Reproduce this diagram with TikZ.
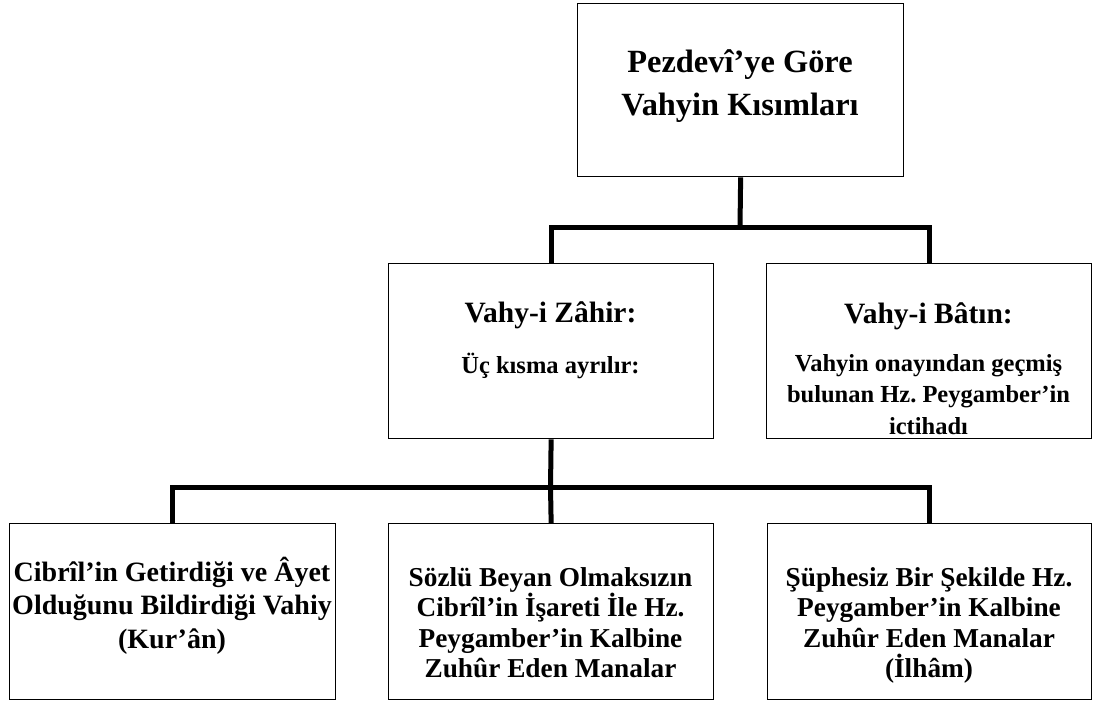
\documentclass[tikz,border=0pt]{standalone}
\usepackage{fontspec}
\setmainfont{Liberation Serif}
\frenchspacing
\begin{document}
\begin{tikzpicture}[x=1pt, y=-1pt,
  box/.style={draw=black, line width=1.3pt, inner sep=0pt, anchor=north west},
  conn/.style={draw=black, line width=5pt},
  % multi-line texts are placed by the baseline of their last line
  txt/.style={align=center, anchor=base, inner sep=0pt},
  titlefont/.style={font=\bfseries\fontsize{32.4}{43}\selectfont},
  headfont/.style={font=\bfseries\fontsize{29.5}{34}\selectfont},
  bodyfont/.style={font=\bfseries\fontsize{24.5}{31.5}\selectfont},
  leaffont/.style={font=\bfseries\fontsize{27.3}{30.3}\selectfont},
]
\useasboundingbox (0,0) rectangle (1093,702);

% boxes
\node[box, minimum width=326pt, minimum height=173pt] (top)  at (577,3)   {};
\node[box, minimum width=325pt, minimum height=175pt] (midL) at (388,263) {};
\node[box, minimum width=325pt, minimum height=175pt] (midR) at (766,263) {};
\node[box, minimum width=326pt, minimum height=176pt] (botL) at (9,523)   {};
\node[box, minimum width=325pt, minimum height=176pt] (botM) at (388,523) {};
\node[box, minimum width=324pt, minimum height=176pt] (botR) at (767,523) {};

% texts
\node[txt, titlefont] (topT) at (740,115) {Pezdevî’ye Göre\\Vahyin Kısımları};
\node[txt, headfont] (midLH) at (550.5,322) {Vahy-i Zâhir:};
\node[txt, bodyfont] (midLB) at (550.5,373) {Üç kısma ayrılır:};
\node[txt, headfont] (midRH) at (928.5,323) {Vahy-i Bâtın:};
\node[txt, bodyfont] (midRB) at (928.5,434) {Vahyin onayından geçmiş\\bulunan Hz. Peygamber’in\\ictihadı};
\node[txt, font=\bfseries\fontsize{28}{33.5}\selectfont] (botLT) at (172,648)
  {Cibrîl’in Getirdiği ve Âyet\\Olduğunu Bildirdiği Vahiy\\(Kur’ân)};
\node[txt, leaffont] (botMT) at (550.5,677.4)
  {Sözlü Beyan Olmaksızın\\Cibrîl’in İşareti İle Hz.\\Peygamber’in Kalbine\\Zuhûr Eden Manalar};
\node[txt, leaffont] (botRT) at (929,677.4)
  {Şüphesiz Bir Şekilde Hz.\\Peygamber’in Kalbine\\Zuhûr Eden Manalar\\(İlhâm)};

% connectors
\coordinate (j1) at (740,227);
\coordinate (j2) at (550.5,487);
\draw[conn] (top.south) -- (j1);
\draw[conn] (midL.north) |- (j1) -| (midR.north);
\draw[conn] (midL.south) -- (j2) -- (botM.north);
\draw[conn] (botL.north) |- (j2) -| (botR.north);
\end{tikzpicture}
\end{document}
